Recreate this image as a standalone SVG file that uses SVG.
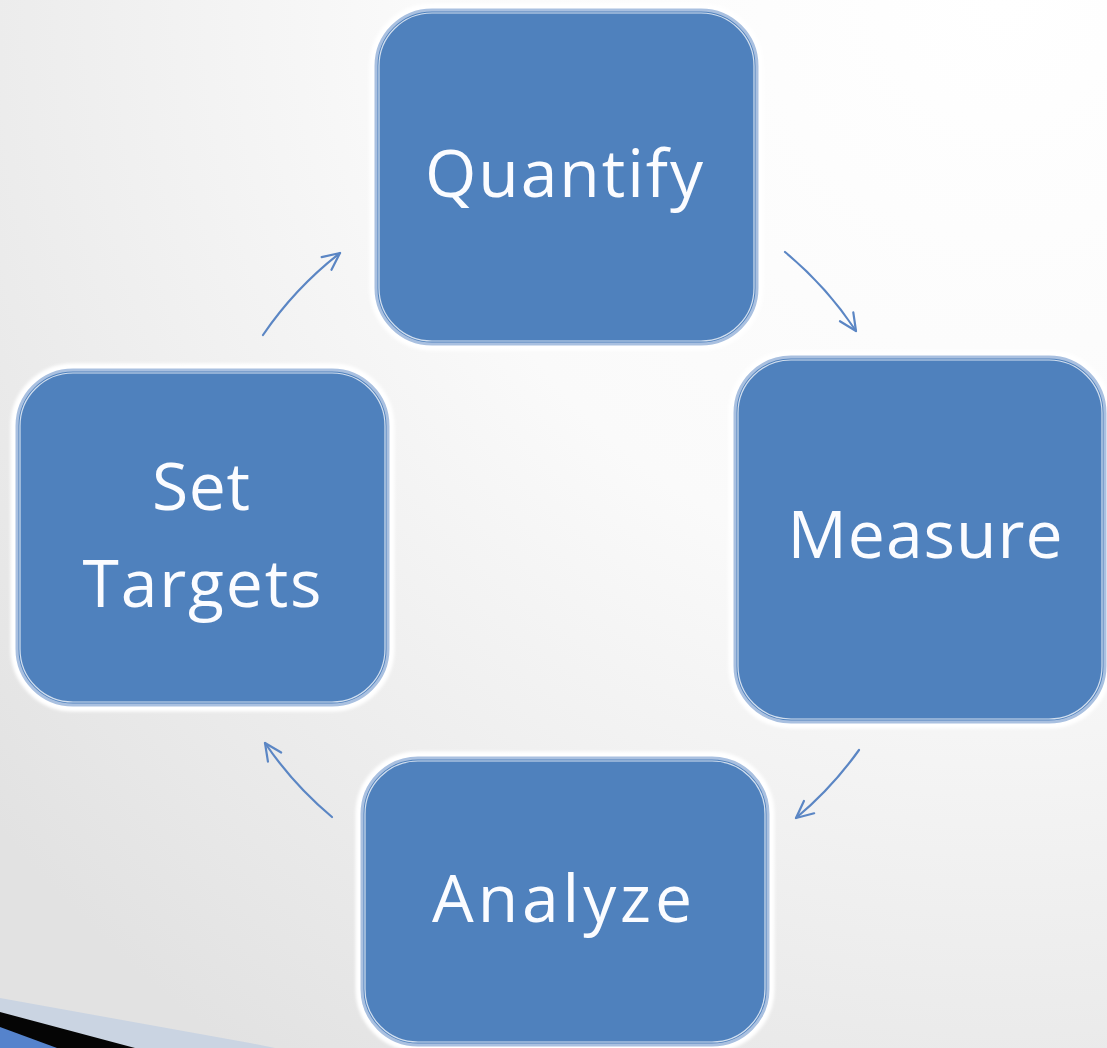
<svg xmlns="http://www.w3.org/2000/svg" width="1107" height="1048" viewBox="0 0 1107 1048">
  <defs>
    <radialGradient id="bg" cx="1000" cy="0" r="1300" gradientUnits="userSpaceOnUse">
      <stop offset="0" stop-color="#ffffff"/>
      <stop offset="0.45" stop-color="#fafafa"/>
      <stop offset="1" stop-color="#e2e2e2"/>
    </radialGradient>
    <filter id="glow" x="-10%" y="-10%" width="120%" height="120%">
      <feGaussianBlur stdDeviation="1.6"/>
    </filter>
    <marker id="head" viewBox="0 0 22 22" refX="20" refY="11" markerWidth="22" markerHeight="22" markerUnits="userSpaceOnUse" orient="auto">
      <polyline points="3,3 20,11 3,19" fill="none" stroke="#5b86c4" stroke-width="2.2" stroke-linecap="round" stroke-linejoin="round"/>
    </marker>
    <style>
      .halo { fill: none; stroke: #ffffff; stroke-width: 13; }
      .box { fill: #4f81bd; stroke: #a9c0e0; stroke-width: 3; }
      .inner { fill: none; stroke: #ffffff; stroke-width: 1.2; stroke-opacity: 0.75; }
      .label { font-family: "Open Sans", "Noto Sans", "DejaVu Sans", sans-serif; font-size: 66px; fill: #fbfcff; text-anchor: middle; }
      .link { fill: none; stroke: #5b86c4; stroke-width: 2.2; stroke-linecap: round; marker-end: url(#head); }
    </style>
  </defs>

  <!-- backdrop -->
  <rect x="0" y="0" width="1107" height="1048" fill="url(#bg)"/>

  <!-- corner swoosh -->
  <polygon points="0,998 250,1043 275,1048 0,1048" fill="#cad4e2"/>
  <polygon points="0,1012 135,1048 0,1048" fill="#050505"/>
  <polygon points="0,1027 57,1048 0,1048" fill="#5583cc"/>

  <!-- connectors -->
  <g id="connectors">
    <path class="link" d="M263,335 A362,362 0 0 1 340,253"/>
    <path class="link" d="M785,252 A362,362 0 0 1 856,331"/>
    <path class="link" d="M859,750 A362,362 0 0 1 796,818"/>
    <path class="link" d="M332,817 A362,362 0 0 1 265,743"/>
  </g>

  <g id="node-quantify">
    <rect class="halo" x="376" y="10" width="381" height="334" rx="56" filter="url(#glow)"/>
    <rect class="box" x="376" y="10" width="381" height="334" rx="56"/>
    <rect class="inner" x="379" y="13" width="375" height="328" rx="53"/>
    <text class="label" x="564" y="197" textLength="278" lengthAdjust="spacing">Quantify</text>
  </g>

  <g id="node-measure">
    <rect class="halo" x="735" y="357" width="370" height="365" rx="56" filter="url(#glow)"/>
    <rect class="box" x="735" y="357" width="370" height="365" rx="56"/>
    <rect class="inner" x="738" y="360" width="364" height="359" rx="53"/>
    <text class="label" x="925" y="558" textLength="275" lengthAdjust="spacing">Measure</text>
  </g>

  <g id="node-analyze">
    <rect class="halo" x="362" y="758" width="406" height="287" rx="56" filter="url(#glow)"/>
    <rect class="box" x="362" y="758" width="406" height="287" rx="56"/>
    <rect class="inner" x="365" y="761" width="400" height="281" rx="53"/>
    <text class="label" x="562" y="922" textLength="260" lengthAdjust="spacing">Analyze</text>
  </g>

  <g id="node-set-targets">
    <rect class="halo" x="17" y="370" width="371" height="335" rx="56" filter="url(#glow)"/>
    <rect class="box" x="17" y="370" width="371" height="335" rx="56"/>
    <rect class="inner" x="20" y="373" width="365" height="329" rx="53"/>
    <text class="label" x="201" y="510" textLength="98" lengthAdjust="spacing">Set</text>
    <text class="label" x="202" y="607" textLength="239" lengthAdjust="spacing">Targets</text>
  </g>
</svg>
